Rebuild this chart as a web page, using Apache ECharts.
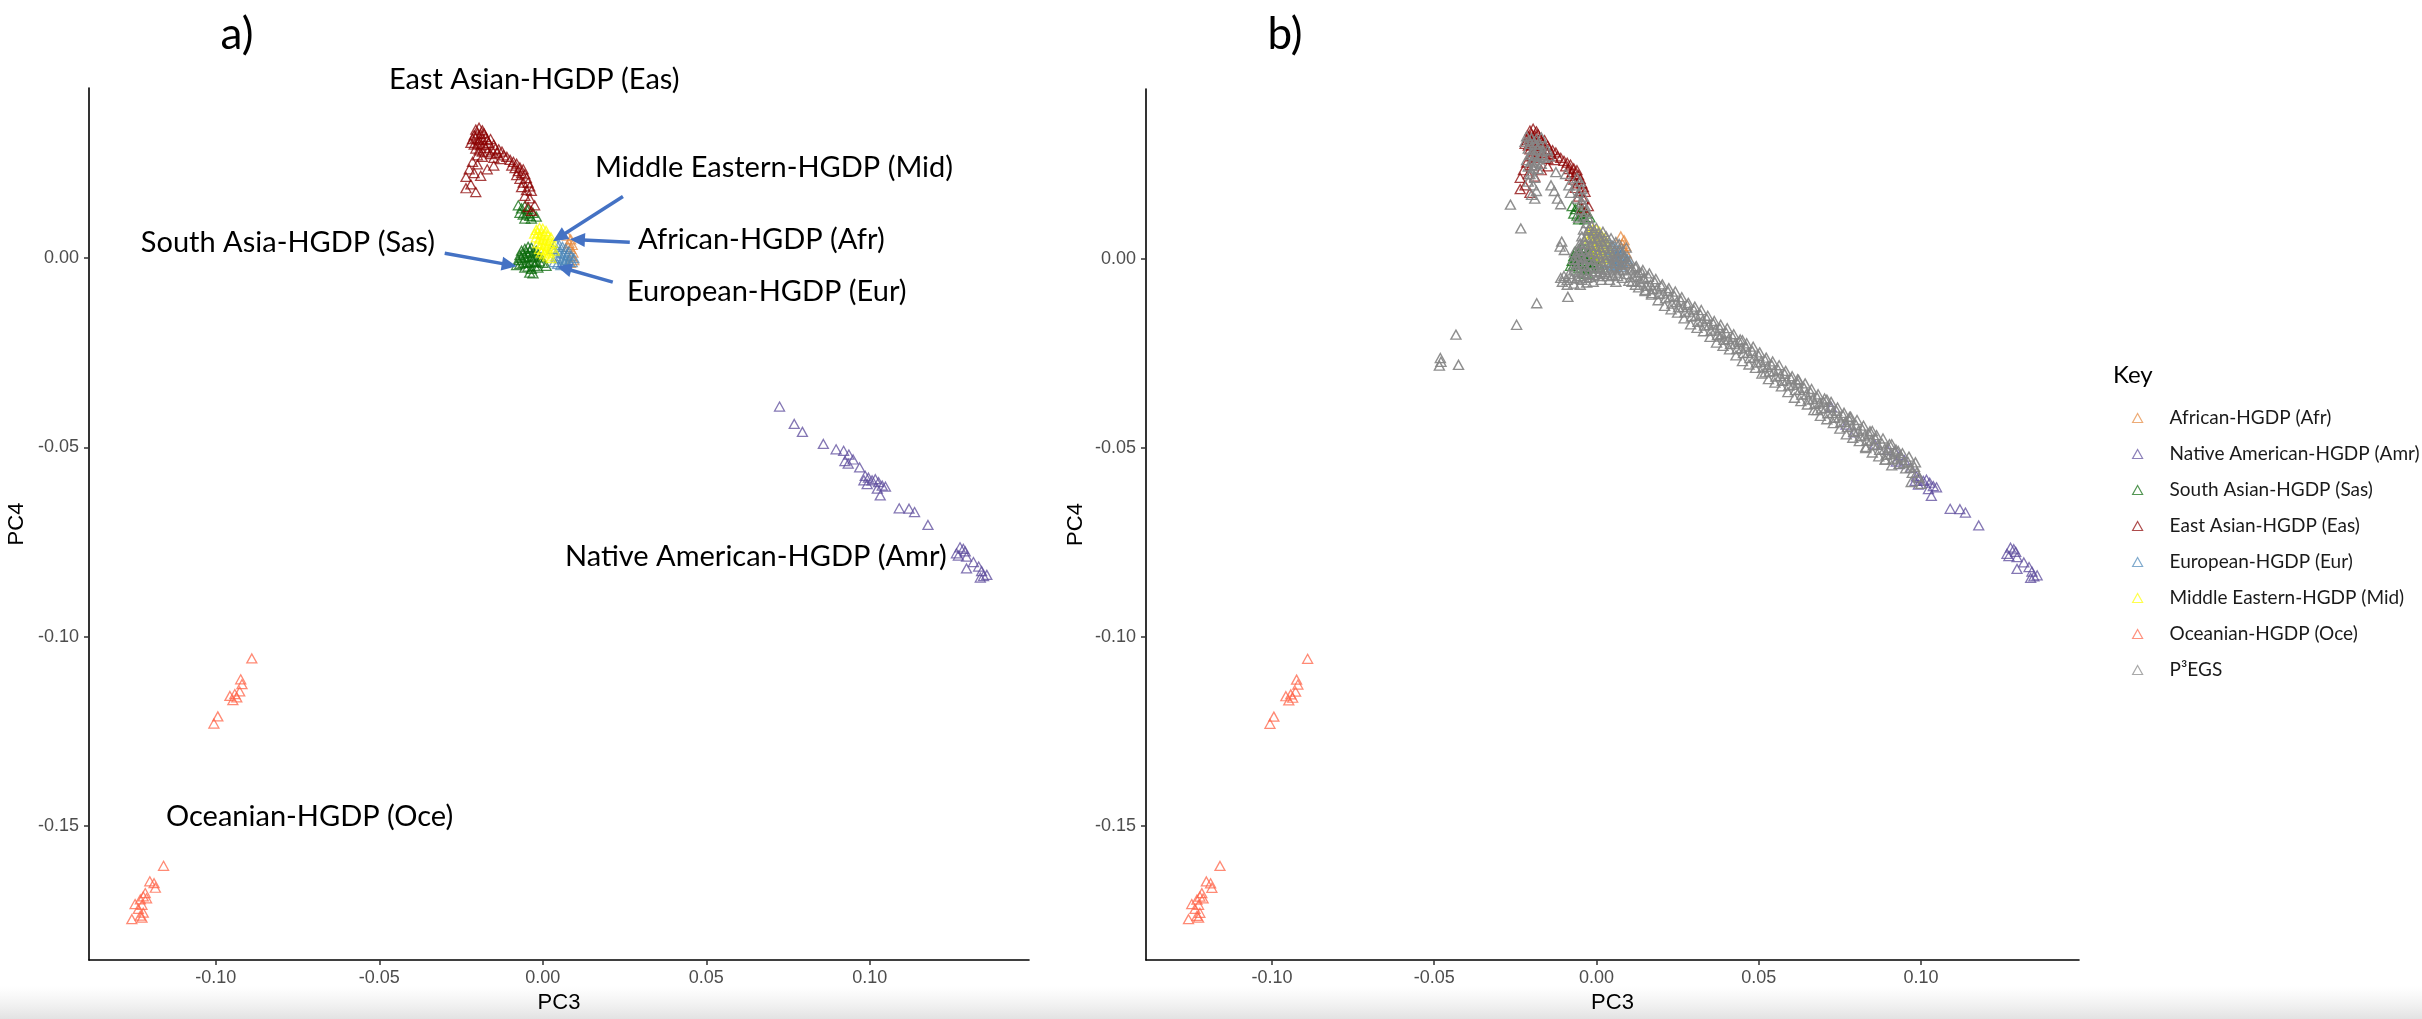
<!DOCTYPE html>
<html>
<head>
<meta charset="utf-8">
<script src="https://cdn.jsdelivr.net/npm/echarts@6/dist/echarts.min.js"></script>
<style>
  html, body { margin: 0; padding: 0; background: #fff; }
  #chart { width: 2422px; height: 1019px; }
</style>
</head>
<body>
<div id="chart"></div>
<script>
// tick positions shared by both panels
const xTicks = [-0.10, -0.05, 0.00, 0.05, 0.10];
const yTicks = [-0.15, -0.10, -0.05, 0.00];

// HGDP reference populations (PC3, PC4)
const afr = [[0.0075,0.0060],[0.0085,0.0050],[0.0080,0.0040],[0.0090,0.0035],[0.0085,0.0025],[0.0092,0.0015],
  [0.0088,0.0005],[0.0095,-0.0005],[0.0085,-0.0012],[0.0078,0.0030]];

const amr = [[0.0724,-0.0392],[0.0769,-0.0438],[0.0794,-0.0459],[0.0858,-0.0491],[0.0897,-0.0505],[0.0920,-0.0509],
  [0.0936,-0.0519],[0.0924,-0.0536],[0.0934,-0.0543],[0.0949,-0.0532],[0.0969,-0.0553],[0.0986,-0.0575],
  [0.0982,-0.0587],[0.0996,-0.0580],[0.1007,-0.0587],[0.1017,-0.0584],[0.1027,-0.0592],[0.1038,-0.0601],
  [0.0992,-0.0597],[0.1023,-0.0609],[0.1048,-0.0604],[0.1032,-0.0627],[0.1090,-0.0661],[0.1120,-0.0662],
  [0.1137,-0.0671],[0.1178,-0.0705],[0.1265,-0.0780],[0.1276,-0.0764],[0.1286,-0.0768],[0.1292,-0.0775],
  [0.1271,-0.0786],[0.1296,-0.0789],[0.1317,-0.0803],[0.1296,-0.0820],[0.1333,-0.0815],[0.1342,-0.0827],
  [0.1348,-0.0840],[0.1358,-0.0837],[0.1338,-0.0844]];

const sas = [[-0.0075,0.0140],[-0.0065,0.0132],[-0.0055,0.0138],[-0.0045,0.0130],[-0.0070,0.0120],[-0.0060,0.0115],
  [-0.0050,0.0118],[-0.0040,0.0112],[-0.0030,0.0120],[-0.0055,0.0105],[-0.0035,0.0105],[-0.0020,0.0110],
  [-0.0065,0.0020],[-0.0055,0.0025],[-0.0045,0.0030],[-0.0035,0.0028],[-0.0070,0.0008],[-0.0060,0.0012],
  [-0.0050,0.0015],[-0.0040,0.0018],[-0.0030,0.0015],[-0.0020,0.0020],[-0.0075,-0.0005],[-0.0065,0.0000],
  [-0.0055,0.0003],[-0.0045,0.0005],[-0.0035,0.0002],[-0.0025,0.0005],[-0.0015,0.0008],[-0.0005,0.0002],
  [-0.0070,-0.0015],[-0.0060,-0.0012],[-0.0050,-0.0010],[-0.0040,-0.0012],[-0.0030,-0.0008],[-0.0020,-0.0010],
  [-0.0010,-0.0008],[0.0000,-0.0012],[-0.0055,-0.0025],[-0.0045,-0.0022],[-0.0035,-0.0028],[-0.0025,-0.0020],
  [-0.0015,-0.0025],[-0.0040,-0.0038],[-0.0030,-0.0040],[-0.0080,-0.0018],[0.0010,-0.0020]];

const eas = [[-0.0205,0.0340],[-0.0195,0.0345],[-0.0185,0.0338],[-0.0210,0.0325],[-0.0200,0.0330],[-0.0190,0.0328],
  [-0.0180,0.0330],[-0.0175,0.0320],[-0.0215,0.0315],[-0.0205,0.0318],[-0.0195,0.0312],[-0.0185,0.0315],
  [-0.0170,0.0312],[-0.0160,0.0315],[-0.0165,0.0305],[-0.0220,0.0305],[-0.0210,0.0300],[-0.0200,0.0302],
  [-0.0190,0.0298],[-0.0180,0.0300],[-0.0175,0.0292],[-0.0150,0.0300],[-0.0145,0.0290],[-0.0155,0.0285],
  [-0.0135,0.0288],[-0.0205,0.0290],[-0.0195,0.0285],[-0.0185,0.0282],[-0.0170,0.0280],[-0.0160,0.0275],
  [-0.0140,0.0278],[-0.0125,0.0282],[-0.0120,0.0272],[-0.0110,0.0268],[-0.0200,0.0272],[-0.0185,0.0268],
  [-0.0150,0.0265],[-0.0130,0.0262],[-0.0100,0.0260],[-0.0090,0.0255],[-0.0080,0.0250],[-0.0095,0.0245],
  [-0.0085,0.0238],[-0.0070,0.0240],[-0.0075,0.0230],[-0.0060,0.0235],[-0.0065,0.0225],[-0.0055,0.0222],
  [-0.0080,0.0220],[-0.0050,0.0212],[-0.0070,0.0210],[-0.0060,0.0200],[-0.0045,0.0200],[-0.0040,0.0190],
  [-0.0065,0.0188],[-0.0050,0.0180],[-0.0035,0.0178],[-0.0055,0.0165],[-0.0040,0.0158],[-0.0025,0.0140],
  [-0.0045,0.0135],[-0.0035,0.0125],[-0.0215,0.0255],[-0.0200,0.0248],[-0.0225,0.0235],[-0.0210,0.0225],
  [-0.0235,0.0215],[-0.0190,0.0218],[-0.0220,0.0195],[-0.0235,0.0185],[-0.0205,0.0175],[-0.0150,0.0245],
  [-0.0170,0.0235]];

const eur = [[0.0040,0.0040],[0.0050,0.0035],[0.0060,0.0030],[0.0070,0.0025],[0.0045,0.0020],[0.0055,0.0015],
  [0.0065,0.0012],[0.0075,0.0008],[0.0085,0.0005],[0.0040,0.0005],[0.0050,0.0000],[0.0060,-0.0003],
  [0.0070,-0.0005],[0.0080,-0.0008],[0.0090,-0.0010],[0.0035,-0.0010],[0.0045,-0.0015],[0.0055,-0.0018],
  [0.0065,-0.0015],[0.0075,-0.0020],[0.0030,0.0025],[0.0080,0.0018],[0.0095,0.0000]];

const mid = [[-0.0020,0.0075],[-0.0010,0.0080],[0.0000,0.0078],[0.0010,0.0072],[-0.0025,0.0065],[-0.0015,0.0068],
  [-0.0005,0.0065],[0.0005,0.0062],[0.0015,0.0060],[0.0025,0.0055],[-0.0020,0.0055],[-0.0010,0.0052],
  [0.0000,0.0050],[0.0010,0.0048],[0.0020,0.0045],[0.0030,0.0040],[-0.0015,0.0040],[-0.0005,0.0038],
  [0.0005,0.0035],[0.0015,0.0032],[0.0025,0.0028],[-0.0010,0.0025],[0.0000,0.0022],[0.0010,0.0020],
  [0.0020,0.0015],[0.0035,0.0020],[0.0005,0.0010],[0.0015,0.0005],[0.0025,0.0000],[-0.0005,0.0015]];

const oce = [[-0.0890,-0.1058],[-0.0924,-0.1113],[-0.0920,-0.1126],[-0.0927,-0.1145],[-0.0942,-0.1152],
  [-0.0957,-0.1157],[-0.0936,-0.1161],[-0.0948,-0.1168],[-0.0994,-0.1211],[-0.1006,-0.1230],
  [-0.1160,-0.1606],[-0.1189,-0.1652],[-0.1202,-0.1647],[-0.1185,-0.1664],[-0.1216,-0.1678],
  [-0.1222,-0.1687],[-0.1231,-0.1695],[-0.1212,-0.1692],[-0.1247,-0.1707],[-0.1226,-0.1709],
  [-0.1237,-0.1720],[-0.1222,-0.1730],[-0.1231,-0.1738],[-0.1257,-0.1747],[-0.1226,-0.1743]];

// P3EGS samples (panel b only)
const p3egs = [
  // cline towards the Native American cluster
  [0.0100,-0.0012],[0.0107,-0.0030],[0.0113,-0.0048],[0.0120,-0.0022],[0.0127,-0.0044],[0.0133,-0.0060],
  [0.0140,-0.0036],[0.0147,-0.0053],[0.0153,-0.0071],[0.0160,-0.0047],[0.0167,-0.0068],[0.0173,-0.0080],
  [0.0180,-0.0061],[0.0187,-0.0078],[0.0193,-0.0093],[0.0200,-0.0072],[0.0207,-0.0091],[0.0213,-0.0104],
  [0.0220,-0.0085],[0.0227,-0.0101],[0.0233,-0.0118],[0.0240,-0.0098],[0.0247,-0.0114],[0.0253,-0.0128],
  [0.0260,-0.0110],[0.0267,-0.0127],[0.0273,-0.0141],[0.0280,-0.0121],[0.0287,-0.0139],[0.0293,-0.0152],
  [0.0300,-0.0134],[0.0307,-0.0150],[0.0313,-0.0166],[0.0320,-0.0147],[0.0327,-0.0163],[0.0333,-0.0176],
  [0.0340,-0.0158],[0.0347,-0.0175],[0.0353,-0.0190],[0.0360,-0.0171],[0.0367,-0.0187],[0.0373,-0.0201],
  [0.0380,-0.0183],[0.0387,-0.0199],[0.0393,-0.0214],[0.0400,-0.0195],[0.0407,-0.0212],[0.0413,-0.0225],
  [0.0420,-0.0207],[0.0427,-0.0224],[0.0433,-0.0238],[0.0440,-0.0219],[0.0447,-0.0236],[0.0453,-0.0249],
  [0.0460,-0.0232],[0.0467,-0.0248],[0.0473,-0.0262],[0.0480,-0.0243],[0.0487,-0.0260],[0.0493,-0.0274],
  [0.0500,-0.0256],[0.0507,-0.0272],[0.0513,-0.0287],[0.0520,-0.0268],[0.0527,-0.0285],[0.0533,-0.0298],
  [0.0540,-0.0280],[0.0547,-0.0297],[0.0553,-0.0311],[0.0560,-0.0293],[0.0567,-0.0309],[0.0573,-0.0322],
  [0.0580,-0.0304],[0.0587,-0.0321],[0.0593,-0.0335],[0.0600,-0.0317],[0.0607,-0.0333],[0.0613,-0.0347],
  [0.0620,-0.0329],[0.0627,-0.0346],[0.0633,-0.0359],[0.0640,-0.0341],[0.0647,-0.0358],[0.0653,-0.0372],
  [0.0660,-0.0353],[0.0667,-0.0370],[0.0673,-0.0383],[0.0680,-0.0366],[0.0687,-0.0382],[0.0693,-0.0396],
  [0.0700,-0.0378],[0.0707,-0.0394],[0.0713,-0.0408],[0.0720,-0.0390],[0.0727,-0.0407],[0.0733,-0.0420],
  [0.0740,-0.0402],[0.0747,-0.0419],[0.0753,-0.0432],[0.0760,-0.0414],[0.0767,-0.0431],[0.0773,-0.0445],
  [0.0780,-0.0427],[0.0787,-0.0443],[0.0793,-0.0457],[0.0800,-0.0439],[0.0807,-0.0455],[0.0813,-0.0469],
  [0.0820,-0.0451],[0.0827,-0.0467],[0.0833,-0.0481],[0.0840,-0.0463],[0.0847,-0.0480],[0.0853,-0.0493],
  [0.0860,-0.0476],[0.0867,-0.0492],[0.0873,-0.0505],[0.0880,-0.0488],[0.0887,-0.0504],[0.0893,-0.0518],
  [0.0900,-0.0500],[0.0907,-0.0516],[0.0913,-0.0530],[0.0920,-0.0512],[0.0927,-0.0528],[0.0933,-0.0542],
  [0.0940,-0.0525],[0.0947,-0.0540],[0.0953,-0.0554],[0.0960,-0.0537],[0.0967,-0.0552],[0.0973,-0.0566],
  [0.0980,-0.0550],[0.0987,-0.0565],[0.0993,-0.0578],
  // upper edge of the cline
  [0.0103,-0.0004],[0.0123,-0.0019],[0.0143,-0.0029],[0.0163,-0.0038],[0.0183,-0.0053],[0.0203,-0.0067],
  [0.0223,-0.0077],[0.0243,-0.0086],[0.0263,-0.0101],[0.0283,-0.0116],[0.0303,-0.0126],[0.0323,-0.0135],
  [0.0343,-0.0150],[0.0363,-0.0164],[0.0383,-0.0174],[0.0403,-0.0183],[0.0423,-0.0199],[0.0443,-0.0213],
  [0.0463,-0.0223],[0.0483,-0.0232],[0.0503,-0.0247],[0.0523,-0.0261],[0.0543,-0.0271],[0.0563,-0.0281],
  [0.0583,-0.0296],[0.0603,-0.0310],[0.0623,-0.0320],[0.0643,-0.0329],[0.0663,-0.0344],[0.0683,-0.0358],
  [0.0703,-0.0369],[0.0723,-0.0378],[0.0743,-0.0393],[0.0763,-0.0407],[0.0783,-0.0417],[0.0803,-0.0426],
  [0.0823,-0.0441],[0.0843,-0.0456],[0.0863,-0.0466],[0.0883,-0.0475],[0.0903,-0.0490],[0.0923,-0.0504],
  [0.0943,-0.0514],[0.0963,-0.0523],[0.0983,-0.0538],
  // lower edge of the cline
  [0.0110,-0.0060],[0.0130,-0.0075],[0.0150,-0.0085],[0.0170,-0.0094],[0.0190,-0.0109],[0.0210,-0.0124],
  [0.0230,-0.0133],[0.0250,-0.0142],[0.0270,-0.0157],[0.0290,-0.0173],[0.0310,-0.0182],[0.0330,-0.0191],
  [0.0350,-0.0206],[0.0370,-0.0221],[0.0390,-0.0230],[0.0410,-0.0239],[0.0430,-0.0255],[0.0450,-0.0270],
  [0.0470,-0.0279],[0.0490,-0.0288],[0.0510,-0.0303],[0.0530,-0.0318],[0.0550,-0.0327],[0.0570,-0.0337],
  [0.0590,-0.0352],[0.0610,-0.0367],[0.0630,-0.0376],[0.0650,-0.0385],[0.0670,-0.0400],[0.0690,-0.0415],
  [0.0710,-0.0424],[0.0730,-0.0434],[0.0750,-0.0449],[0.0770,-0.0464],[0.0790,-0.0473],[0.0810,-0.0482],
  [0.0830,-0.0497],[0.0850,-0.0512],[0.0870,-0.0522],[0.0890,-0.0531],[0.0910,-0.0546],
  [0.0620,-0.0318],[0.0710,-0.0372],[0.0780,-0.0418],[0.0850,-0.0455],[0.0910,-0.0490],[0.0930,-0.0508],
  [0.0450,-0.0215],[0.0520,-0.0300],[0.0380,-0.0205],[0.0680,-0.0400],[0.0830,-0.0500],[0.0970,-0.0590],
  [0.1000,-0.0595],[0.0890,-0.0531],
  // central blob
  [-0.0030,0.0095],[-0.0015,0.0088],[0.0000,0.0082],[-0.0040,0.0078],[-0.0025,0.0075],[-0.0010,0.0070],
  [0.0005,0.0068],[0.0015,0.0062],[-0.0045,0.0060],[-0.0030,0.0058],[-0.0015,0.0055],[0.0000,0.0052],
  [0.0015,0.0048],[0.0030,0.0045],[-0.0050,0.0042],[-0.0035,0.0040],[-0.0020,0.0038],[-0.0005,0.0035],
  [0.0010,0.0032],[0.0025,0.0030],[0.0040,0.0028],[0.0055,0.0022],[-0.0055,0.0025],[-0.0040,0.0022],
  [-0.0025,0.0020],[-0.0010,0.0018],[0.0005,0.0015],[0.0020,0.0012],[0.0035,0.0010],[0.0050,0.0008],
  [0.0065,0.0005],[0.0080,0.0002],[-0.0060,0.0008],[-0.0045,0.0005],[-0.0030,0.0002],[-0.0015,0.0000],
  [0.0000,-0.0002],[0.0015,-0.0005],[0.0030,-0.0008],[0.0045,-0.0010],[0.0060,-0.0012],[0.0075,-0.0015],
  [0.0090,-0.0010],[-0.0065,-0.0010],[-0.0050,-0.0015],[-0.0035,-0.0018],[-0.0020,-0.0020],[-0.0005,-0.0022],
  [0.0010,-0.0025],[0.0025,-0.0028],[0.0040,-0.0030],[0.0055,-0.0025],[0.0070,-0.0030],[0.0085,-0.0028],
  [-0.0070,-0.0030],[-0.0055,-0.0035],[-0.0040,-0.0038],[-0.0025,-0.0040],[-0.0010,-0.0042],[0.0005,-0.0045],
  [0.0020,-0.0040],[0.0035,-0.0045],[0.0050,-0.0042],[-0.0085,-0.0040],[-0.0100,-0.0045],[-0.0090,-0.0055],
  [-0.0075,-0.0050],[-0.0060,-0.0052],[-0.0045,-0.0055],[-0.0030,-0.0050],[-0.0110,-0.0050],[0.0015,-0.0055],
  [0.0065,-0.0045],[0.0040,-0.0055],[0.0060,-0.0060],[0.0080,-0.0050],[0.0100,-0.0058],[0.0120,-0.0068],
  [0.0095,-0.0040],[0.0110,-0.0025],[0.0130,-0.0035],[0.0145,-0.0050],[0.0150,-0.0082],[0.0170,-0.0090],
  [-0.0105,-0.0060],[-0.0090,-0.0068],[-0.0070,-0.0065],[-0.0050,-0.0068],[-0.0030,-0.0062],[-0.0010,-0.0060],
  [-0.0022,0.0082],[-0.0008,0.0076],[0.0008,0.0058],[-0.0038,0.0050],[-0.0012,0.0045],[0.0022,0.0040],
  [0.0048,0.0035],[-0.0048,0.0032],[-0.0018,0.0028],[0.0012,0.0024],[0.0042,0.0018],[0.0062,0.0015],
  [0.0075,0.0020],[-0.0052,0.0015],[-0.0022,0.0010],[0.0008,0.0006],[0.0028,0.0003],[0.0058,-0.0002],
  [0.0088,0.0005],[-0.0058,-0.0002],[-0.0042,-0.0008],[-0.0012,-0.0012],[0.0018,-0.0015],[0.0048,-0.0020],
  [0.0078,-0.0022],[-0.0062,-0.0022],[-0.0032,-0.0028],[-0.0002,-0.0032],[0.0028,-0.0035],[0.0062,-0.0036],
  [-0.0048,-0.0045],[-0.0018,-0.0048],[0.0010,-0.0035],[0.0092,0.0030],[0.0070,0.0040],[0.0060,0.0045],
  [0.0045,0.0055],[0.0030,0.0060],[0.0020,0.0072],[-0.0070,0.0000],[-0.0068,0.0018],
  // stream up to the East Asian cluster
  [-0.0060,0.0215],[-0.0050,0.0205],[-0.0065,0.0195],[-0.0045,0.0185],[-0.0055,0.0175],[-0.0040,0.0165],
  [-0.0060,0.0160],[-0.0045,0.0150],[-0.0035,0.0140],[-0.0050,0.0130],[-0.0030,0.0125],[-0.0040,0.0115],
  [-0.0025,0.0108],[-0.0055,0.0110],
  // inside the East Asian cluster
  [-0.0215,0.0325],[-0.0200,0.0320],[-0.0185,0.0318],[-0.0170,0.0322],[-0.0220,0.0310],[-0.0205,0.0305],
  [-0.0190,0.0302],[-0.0175,0.0305],[-0.0160,0.0300],[-0.0210,0.0292],[-0.0195,0.0288],[-0.0180,0.0290],
  [-0.0165,0.0285],[-0.0150,0.0288],[-0.0205,0.0275],[-0.0190,0.0272],[-0.0175,0.0270],[-0.0160,0.0268],
  [-0.0145,0.0272],[-0.0200,0.0258],[-0.0185,0.0255],[-0.0170,0.0252],[-0.0210,0.0245],[-0.0195,0.0240],
  [-0.0180,0.0238],[-0.0205,0.0225],[-0.0190,0.0215],[-0.0210,0.0205],[-0.0195,0.0195],[-0.0185,0.0180],
  [-0.0200,0.0170],[-0.0190,0.0160],[-0.0140,0.0195],[-0.0130,0.0180],[-0.0120,0.0160],[-0.0110,0.0145],
  [-0.0085,0.0195],[-0.0080,0.0175],[-0.0095,0.0225],[-0.0125,0.0230],
  [-0.0208,0.0315],[-0.0192,0.0310],[-0.0178,0.0296],[-0.0198,0.0280],[-0.0182,0.0263],[-0.0168,0.0276],
  [-0.0215,0.0262],[-0.0192,0.0248],[-0.0200,0.0232],
  // outliers
  [-0.0265,0.0144],[-0.0233,0.0081],[-0.0107,0.0046],[-0.0112,0.0033],[-0.0099,0.0024],[-0.0184,-0.0117],
  [-0.0246,-0.0174],[-0.0088,-0.0100],[-0.0433,-0.0200],[-0.0481,-0.0262],[-0.0484,-0.0282],[-0.0425,-0.0280],
  [-0.0479,-0.0272]
];

const populations = [
  { name: 'African-HGDP (Afr)', color: '#e5883c', data: afr },
  { name: 'Native American-HGDP (Amr)', color: '#5b4a9b', data: amr },
  { name: 'South Asian-HGDP (Sas)', color: '#0a6a0a', data: sas },
  { name: 'East Asian-HGDP (Eas)', color: '#8b0000', data: eas },
  { name: 'European-HGDP (Eur)', color: '#4a86b8', data: eur },
  { name: 'Middle Eastern-HGDP (Mid)', color: '#ffff00', data: mid },
  { name: 'Oceanian-HGDP (Oce)', color: '#ff6347', data: oce }
];
const sample = { name: 'P³EGS', color: '#858585', data: p3egs };

const axisFont = 'Liberation Sans';
const textFont = 'Lato';

function makeXAxis(gridIndex, gap) {
  return {
    gridIndex, type: 'value', min: -0.1388, max: 0.1487,
    name: 'PC3', nameLocation: 'middle', nameGap: gap,
    nameTextStyle: { fontFamily: axisFont, fontSize: 22, color: '#000' },
    axisLine: { show: true, onZero: false, lineStyle: { color: '#000', width: 1.6 } },
    axisTick: { show: true, customValues: xTicks, length: 5, lineStyle: { color: '#333', width: 1.5 } },
    axisLabel: { customValues: xTicks, formatter: v => v.toFixed(2), fontFamily: axisFont,
      fontSize: 18, color: '#4d4d4d', margin: 9 },
    splitLine: { show: false }
  };
}

function makeYAxis(gridIndex, gap) {
  return {
    gridIndex, type: 'value', min: -0.1855, max: 0.045,
    name: 'PC4', nameLocation: 'middle', nameGap: gap, nameRotate: 90,
    nameTextStyle: { fontFamily: axisFont, fontSize: 22, color: '#000' },
    axisLine: { show: true, onZero: false, lineStyle: { color: '#000', width: 1.6 } },
    axisTick: { show: true, customValues: yTicks, length: 5, lineStyle: { color: '#333', width: 1.5 } },
    axisLabel: { customValues: yTicks, formatter: v => v.toFixed(2), fontFamily: axisFont,
      fontSize: 18, color: '#4d4d4d', margin: 10 },
    splitLine: { show: false }
  };
}

function scatter(p, idx, opacity, width) {
  return {
    name: p.name, type: 'scatter', xAxisIndex: idx, yAxisIndex: idx,
    data: p.data, symbol: 'triangle', symbolSize: [10, 9], silent: true,
    itemStyle: { color: 'rgba(0,0,0,0)', borderColor: p.color, borderWidth: width || 1.3, opacity: opacity || 0.75 }
  };
}

const chart = echarts.init(document.getElementById('chart'), null, { renderer: 'canvas' });

chart.setOption({
  animation: false,
  backgroundColor: '#fff',
  grid: [
    { left: 89, top: 88, width: 940, height: 877 },
    { left: 1146, top: 89, width: 933, height: 871 }
  ],
  xAxis: [makeXAxis(0, 32), makeXAxis(1, 29)],
  yAxis: [makeYAxis(0, 61), makeYAxis(1, 59)],
  legend: {
    orient: 'vertical', left: 2127, top: 403, itemWidth: 10, itemHeight: 9, itemGap: 16,
    selectedMode: false,
    textStyle: { fontFamily: textFont, fontSize: 19, color: '#1a1a1a', lineHeight: 20, padding: [0, 0, 0, 22] },
    data: populations.concat([sample]).map(p => ({
      name: p.name, icon: 'triangle',
      itemStyle: { color: 'rgba(0,0,0,0)', borderColor: p.color, borderWidth: 1.2, opacity: 0.7 }
    }))
  },
  series: populations.map(p => scatter(p, 0))
    .concat(populations.map(p => scatter(p, 1)))
    .concat([scatter(sample, 1, 0.92, 1.4)])
});

// annotation arrows in panel a, anchored in data space
const arrows = [
  [[0.0245, 0.0163], [0.0031, 0.0045]],
  [[0.0266, 0.0042], [0.0083, 0.0050]],
  [[-0.0300, 0.0013], [-0.0080, -0.0021]],
  [[0.0214, -0.0063], [0.0043, -0.0021]]
];

function arrowShapes(from, to) {
  const a = chart.convertToPixel({ seriesIndex: 0 }, from);
  const b = chart.convertToPixel({ seriesIndex: 0 }, to);
  const dx = b[0] - a[0], dy = b[1] - a[1];
  const len = Math.hypot(dx, dy);
  const ux = dx / len, uy = dy / len;
  const headLen = 15, headW = 7;
  const bx = b[0] - ux * headLen, by = b[1] - uy * headLen;
  return [
    { type: 'line', z: 50, silent: true,
      shape: { x1: a[0], y1: a[1], x2: bx + ux * 2, y2: by + uy * 2 },
      style: { stroke: '#4472c4', lineWidth: 3.5 } },
    { type: 'polygon', z: 50, silent: true,
      shape: { points: [[b[0], b[1]], [bx - uy * headW, by + ux * headW], [bx + uy * headW, by - ux * headW]] },
      style: { fill: '#4472c4' } }
  ];
}

function label(text, x, y, size, align) {
  return { type: 'text', x, y, z: 60, silent: true,
    style: { text, fontFamily: textFont, fontSize: size, fill: '#000',
      align: align || 'left', verticalAlign: 'middle' } };
}

const graphics = [
  { type: 'rect', z: -10, silent: true, shape: { x: 0, y: 986, width: 2422, height: 33 },
    style: { fill: { type: 'linear', x: 0, y: 0, x2: 0, y2: 1,
      colorStops: [{ offset: 0, color: 'rgba(236,236,236,0)' }, { offset: 1, color: '#e2e2e2' }] } } },
  label('a)', 237, 35, 44, 'center'),
  label('b)', 1285, 35, 44, 'center'),
  label('Key', 2113, 375, 24),
  label('East Asian-HGDP (Eas)', 389, 80, 29),
  label('Middle Eastern-HGDP (Mid)', 595, 168, 29),
  label('South Asia-HGDP (Sas)', 435, 243, 29, 'right'),
  label('African-HGDP (Afr)', 638, 240, 29),
  label('European-HGDP (Eur)', 627, 292, 29),
  label('Native American-HGDP (Amr)', 565, 557, 29),
  label('Oceanian-HGDP (Oce)', 166, 817, 29)
];
arrows.forEach(([f, t]) => graphics.push(...arrowShapes(f, t)));

chart.setOption({ graphic: graphics });
</script>
</body>
</html>
